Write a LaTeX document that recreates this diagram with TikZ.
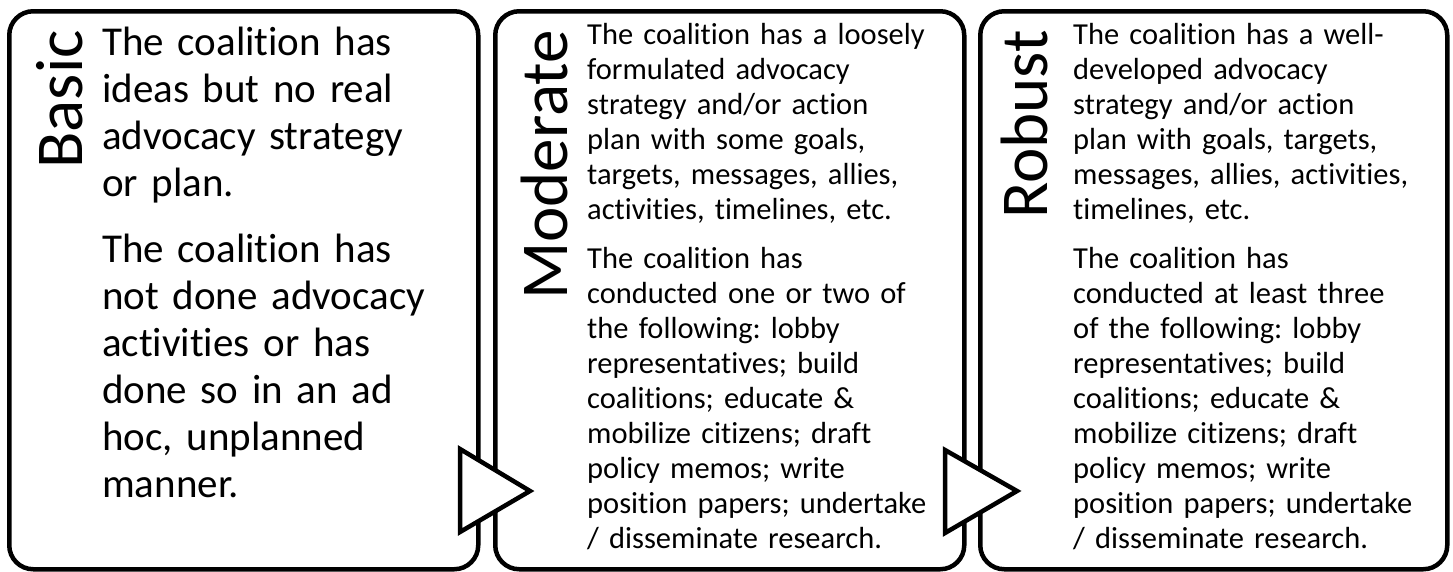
\documentclass[tikz,border=0pt]{standalone}
\usepackage{fontspec}
\setmainfont{Carlito}[Ligatures={NoCommon,NoContextual}]
\frenchspacing
\begin{document}
\begin{tikzpicture}[x=1pt,y=-1pt,
  stagebox/.style={draw=black, line width=4.5pt, rounded corners=24pt, fill=white,
    anchor=north west, inner sep=0pt, minimum width=469pt, minimum height=558pt},
  stagelabel/.style={rotate=90, anchor=base east, inner sep=0pt,
    font=\fontsize{67}{72}\selectfont},
  bigtext/.style={anchor=base west, inner sep=0pt, text width=420pt, align=left,
    font=\fontsize{41}{47}\selectfont\frenchspacing},
  smalltext/.style={anchor=base west, inner sep=0pt, text width=420pt, align=left,
    font=\fontsize{30.5}{35.05}\selectfont\frenchspacing},
  arrowtri/.style={draw=black, line width=4.5pt, fill=white, line join=miter}
]
\useasboundingbox (0,0) rectangle (1453,571);

\node[stagebox] (b1) at (7,9) {};
\node[stagebox] (b2) at (493,9) {};
\node[stagebox, minimum width=467pt] (b3) at (978,9) {};

\draw[arrowtri] (460,449) -- (460,532) -- (530,491) -- cycle;
\draw[arrowtri] (945,450) -- (945,533) -- (1017,491) -- cycle;

\node[stagelabel] (l1) at (82,30) {Basic};
\node[stagelabel] (l2) at (567,30) {Moderate};
\node[stagelabel] (l3) at (1047,30) {Robust};

\node[bigtext] (t1a) at (102,55) {The coalition has\\ideas but no real\\advocacy strategy\\or plan.};
\node[bigtext] (t1b) at (102,262) {The coalition has\\not done advocacy\\activities or has\\done so in an ad\\hoc, unplanned\\manner.};

\node[smalltext] (t2a) at (587,44) {The coalition has a loosely\\formulated advocacy\\strategy and/or action\\plan with some goals,\\targets, messages, allies,\\activities, timelines, etc.};
\node[smalltext] (t2b) at (587,268) {The coalition has\\conducted one or two of\\the following: lobby\\representatives; build\\coalitions; educate \&\\mobilize citizens; draft\\policy memos; write\\position papers; undertake\\/ disseminate research.};

\node[smalltext] (t3a) at (1073,44) {The coalition has a well-\\developed advocacy\\strategy and/or action\\plan with goals, targets,\\messages, allies, activities,\\timelines, etc.};
\node[smalltext] (t3b) at (1073,268) {The coalition has\\conducted at least three\\of the following: lobby\\representatives; build\\coalitions; educate \&\\mobilize citizens; draft\\policy memos; write\\position papers; undertake\\/ disseminate research.};
\end{tikzpicture}
\end{document}
